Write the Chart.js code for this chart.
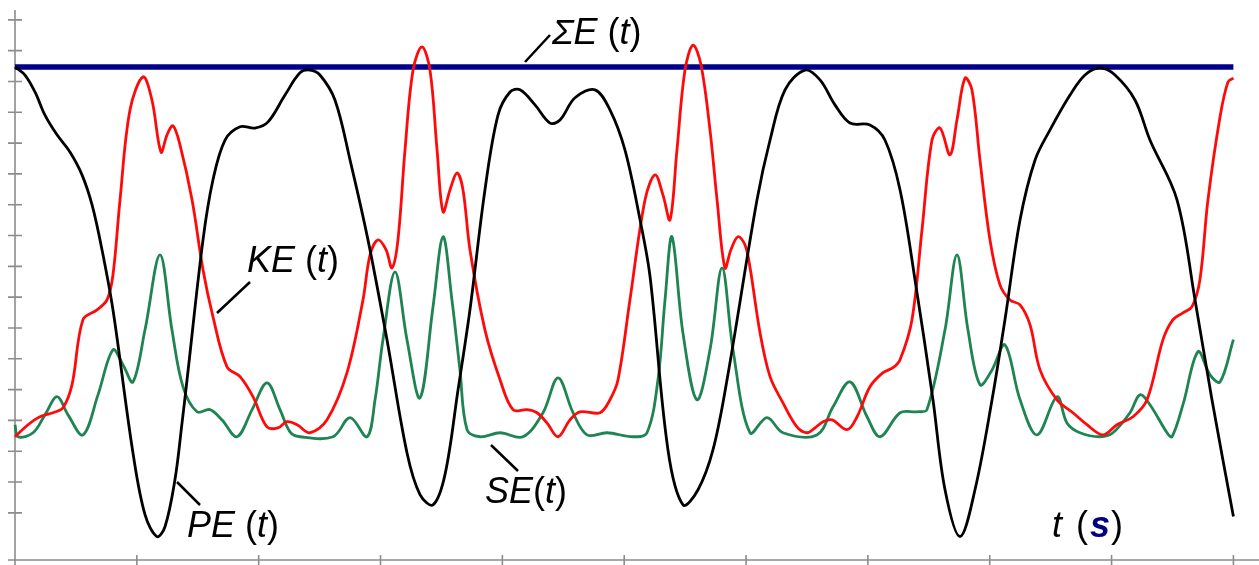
<!DOCTYPE html>
<html>
<head>
<meta charset="utf-8">
<script src="https://cdn.jsdelivr.net/npm/chart.js@4.4.1/dist/chart.umd.min.js"></script>
<style>
  html, body { margin: 0; padding: 0; background: #fff; }
  #wrap { width: 1259px; height: 565px; position: relative; }
</style>
</head>
<body>
<div id="wrap"><canvas id="energyChart"></canvas></div>
<script>
// time axis ticks (s) and energy axis ticks (arbitrary units)
var xTicks = [1, 2, 3, 4, 5, 6, 7, 8, 9, 10];
var yTicks = [13.53, 12.53, 11.53, 10.53, 9.53, 8.53, 7.53, 6.53, 5.53, 4.53, 3.53, 2.53, 1.53, 0.53, -0.47, -1.47, -2.47];

// total energy
var totalE = [[0, 12], [10, 12]];

// potential energy PE(t)
var pePoints = [
  [0, 12], [0.082, 11.74], [0.164, 11.19], [0.246, 10.44], [0.345, 9.80], [0.451, 9.24], [0.550, 8.50],
  [0.632, 7.53], [0.714, 6.07], [0.804, 4.12], [0.968, -0.52], [1.067, -2.53], [1.165, -3.24], [1.231, -2.92],
  [1.313, -1.39], [1.371, 0.45], [1.412, 1.85], [1.543, 6.39], [1.625, 8.34], [1.724, 9.63], [1.847, 10.06],
  [1.970, 10.02], [2.077, 10.22], [2.216, 11.09], [2.339, 11.81], [2.421, 11.90], [2.503, 11.74],
  [2.626, 10.93], [2.750, 8.98], [2.897, 6.39], [3.053, 3.15], [3.217, -0.52], [3.324, -1.88],
  [3.431, -2.21], [3.529, -1.23], [3.636, 1.52], [3.734, 4.12], [3.857, 8.01], [3.964, 10.44],
  [4.063, 11.19], [4.145, 11.26], [4.268, 10.77], [4.391, 10.18], [4.473, 10.28], [4.596, 11.00],
  [4.760, 11.26], [4.883, 10.61], [5.006, 9.31], [5.130, 7.04], [5.212, 5.20], [5.359, -0.42],
  [5.483, -2.21], [5.606, -1.72], [5.729, -0.42], [5.844, 1.85], [6.090, 7.69], [6.197, 9.63],
  [6.320, 11.26], [6.484, 11.90], [6.607, 11.58], [6.730, 10.77], [6.853, 10.18], [7.017, 10.12],
  [7.140, 9.63], [7.264, 8.01], [7.387, 5.09], [7.534, 1.20], [7.633, -1.72], [7.756, -3.24],
  [7.879, -1.72], [8.019, 1.20], [8.125, 3.80], [8.249, 7.04], [8.372, 8.98], [8.495, 9.96],
  [8.659, 11.09], [8.782, 11.74], [8.905, 11.97], [9.028, 11.74], [9.192, 10.93], [9.315, 9.63],
  [9.537, 7.69], [9.685, 4.44], [9.824, 1.20], [10.0, -2.59]
];

// kinetic energy KE(t)
var kePoints = [
  [0, 0], [0.107, 0.39], [0.205, 0.65], [0.312, 0.78], [0.394, 0.94], [0.468, 1.69], [0.558, 3.80],
  [0.673, 4.12], [0.755, 4.44], [0.804, 5.25], [0.862, 7.69], [0.944, 10.61], [1.051, 11.68],
  [1.124, 10.93], [1.198, 9.24], [1.248, 9.80], [1.297, 10.09], [1.354, 9.47], [1.453, 7.69],
  [1.543, 5.42], [1.625, 3.89], [1.740, 2.27], [1.847, 1.95], [1.953, 1.30], [2.068, 0.32],
  [2.159, 0.29], [2.232, 0.49], [2.315, 0.39], [2.421, 0.13], [2.561, 0.55], [2.725, 2.08],
  [2.856, 4.44], [2.914, 5.90], [2.979, 6.39], [3.045, 6.07], [3.094, 5.48], [3.143, 6.39],
  [3.201, 9.31], [3.267, 11.90], [3.340, 12.65], [3.406, 11.90], [3.464, 9.31], [3.513, 7.30],
  [3.570, 8.01], [3.628, 8.56], [3.677, 8.01], [3.734, 6.07], [3.857, 3.47], [3.981, 1.85],
  [4.087, 0.88], [4.202, 0.88], [4.284, 0.78], [4.366, 0.45], [4.457, 0], [4.555, 0.55],
  [4.637, 0.81], [4.801, 0.78], [4.883, 1.20], [4.949, 1.85], [5.047, 4.44], [5.171, 7.69],
  [5.253, 8.50], [5.318, 7.85], [5.376, 7.04], [5.433, 9.31], [5.499, 11.90], [5.565, 12.71],
  [5.630, 12.07], [5.704, 9.96], [5.762, 7.69], [5.827, 5.48], [5.876, 6.07], [5.934, 6.49],
  [5.991, 6.23], [6.032, 5.51], [6.115, 3.37], [6.197, 1.95], [6.303, 1.10], [6.418, 0.32],
  [6.500, 0.13], [6.566, 0.29], [6.632, 0.49], [6.706, 0.55], [6.829, 0.23], [6.911, 0.65],
  [7.017, 1.62], [7.124, 2.08], [7.206, 2.24], [7.264, 2.50], [7.362, 3.80], [7.444, 6.71],
  [7.526, 9.63], [7.592, 10.02], [7.674, 9.15], [7.731, 10.28], [7.797, 11.64], [7.854, 11.26],
  [7.920, 8.98], [8.002, 6.39], [8.084, 4.93], [8.166, 4.44], [8.249, 4.28], [8.331, 3.63],
  [8.413, 2.17], [8.552, 1.20], [8.683, 0.78], [8.798, 0.39], [8.929, 0.06], [9.044, 0.39],
  [9.176, 0.65], [9.291, 1.20], [9.422, 3.15], [9.504, 3.80], [9.586, 4.02], [9.660, 4.22],
  [9.725, 5.09], [9.791, 7.69], [9.890, 10.38], [9.955, 11.51], [10.0, 11.64]
];

// spring energy SE(t)
var sePoints = [
  [0, 0.39], [0.025, 0], [0.148, 0.13], [0.246, 0.71], [0.345, 1.30], [0.435, 0.71], [0.558, 0.06],
  [0.681, 1.36], [0.804, 2.82], [0.886, 2.34], [0.968, 1.78], [1.067, 3.47], [1.190, 5.90],
  [1.288, 3.47], [1.379, 1.62], [1.494, 0.81], [1.600, 0.88], [1.698, 0.55], [1.822, 0],
  [1.946, 0.88], [2.068, 1.75], [2.175, 0.88], [2.257, 0.16], [2.339, 0], [2.610, 0],
  [2.750, 0.62], [2.889, 0], [2.955, 1.20], [3.020, 3.15], [3.119, 5.35], [3.217, 3.15],
  [3.324, 1.26], [3.431, 4.22], [3.513, 6.49], [3.586, 4.44], [3.652, 2.17], [3.710, 0.23],
  [3.816, 0], [3.981, 0.13], [4.169, 0], [4.334, 0.78], [4.457, 1.91], [4.580, 0.78],
  [4.695, 0.06], [4.859, 0.13], [5.072, 0], [5.187, 0.13], [5.277, 1.85], [5.335, 4.44],
  [5.392, 6.49], [5.482, 3.37], [5.597, 1.20], [5.704, 2.82], [5.803, 5.48], [5.893, 2.82],
  [6.032, 0.13], [6.172, 0.62], [6.303, 0.13], [6.582, 0.06], [6.714, 0.97], [6.853, 1.78],
  [6.993, 0.65], [7.100, 0], [7.264, 0.78], [7.403, 0.81], [7.485, 0.88], [7.633, 3.47],
  [7.731, 5.90], [7.821, 3.47], [7.920, 1.69], [8.019, 2.17], [8.125, 2.98], [8.249, 1.20],
  [8.388, 0.06], [8.552, 1.30], [8.634, 0.45], [8.741, 0.13], [8.905, 0], [9.011, 0.13],
  [9.151, 0.78], [9.233, 1.36], [9.315, 1.04], [9.455, 0.13], [9.496, 0], [9.586, 1.04],
  [9.709, 2.76], [9.808, 2.01], [9.890, 1.78], [10.0, 3.15]
];

function toXY(pts) {
  return pts.map(function (p) { return { x: p[0], y: p[1] }; });
}

var ITALIC = "italic 36px 'Liberation Sans', Arial, sans-serif";
var UPRIGHT = "36px 'Liberation Sans', Arial, sans-serif";
var BOLDIT = "italic bold 36px 'Liberation Sans', Arial, sans-serif";

// curve labels: text pieces, left/baseline position and a leader line
var curveLabels = [
  { parts: [['\u03A3E', ITALIC], [' ', UPRIGHT], ['(', UPRIGHT], ['t', ITALIC], [')', UPRIGHT]], x: 552, y: 44, line: [525, 62, 550, 35] },
  { parts: [['KE', ITALIC], [' ', UPRIGHT], ['(', UPRIGHT], ['t', ITALIC], [')', UPRIGHT]], x: 247, y: 272, line: [217, 313, 250, 282] },
  { parts: [['PE', ITALIC], [' ', UPRIGHT], ['(', UPRIGHT], ['t', ITALIC], [')', UPRIGHT]], x: 187, y: 537, line: [177, 482, 200, 505] },
  { parts: [['SE', ITALIC], ['(', UPRIGHT], ['t', ITALIC], [')', UPRIGHT]], x: 485, y: 503, line: [491, 445, 518, 471] }
];

var axesPlugin = {
  id: 'axesPlugin',
  beforeDatasetsDraw: function (chart) {
    var ctx = chart.ctx;
    var xs = chart.scales.x, ys = chart.scales.y;
    var x0 = xs.getPixelForValue(0);
    var yb = chart.chartArea.bottom;
    ctx.save();
    ctx.strokeStyle = '#8c8c8c';
    ctx.lineWidth = 1.6;
    ctx.beginPath();
    ctx.moveTo(x0, 10);
    ctx.lineTo(x0, 565);
    ctx.moveTo(8, yb);
    ctx.lineTo(chart.width, yb);
    yTicks.forEach(function (v) {
      var py = ys.getPixelForValue(v);
      ctx.moveTo(x0 - 7, py);
      ctx.lineTo(x0 + 7, py);
    });
    xTicks.forEach(function (t) {
      var px = xs.getPixelForValue(t);
      ctx.moveTo(px, yb - 5);
      ctx.lineTo(px, yb + 5);
    });
    ctx.stroke();
    ctx.restore();
  },
  afterDraw: function (chart) {
    var ctx = chart.ctx;
    ctx.save();
    ctx.textBaseline = 'alphabetic';
    ctx.fillStyle = '#000';
    curveLabels.forEach(function (lab) {
      var x = lab.x;
      lab.parts.forEach(function (p) {
        ctx.font = p[1];
        ctx.fillText(p[0], x, lab.y);
        x += ctx.measureText(p[0]).width;
      });
      ctx.strokeStyle = '#000';
      ctx.lineWidth = 2.5;
      ctx.beginPath();
      ctx.moveTo(lab.line[0], lab.line[1]);
      ctx.lineTo(lab.line[2], lab.line[3]);
      ctx.stroke();
    });
    // axis title t (s)
    var x = 1052;
    ctx.font = ITALIC; ctx.fillStyle = '#000';
    ctx.fillText('t', x, 537); x += ctx.measureText('t').width + 14;
    ctx.font = UPRIGHT;
    ctx.fillText('(', x, 537); x += ctx.measureText('(').width + 2;
    ctx.font = BOLDIT; ctx.fillStyle = '#000080';
    ctx.fillText('s', x, 537); x += ctx.measureText('s').width + 1;
    ctx.font = UPRIGHT; ctx.fillStyle = '#000';
    ctx.fillText(')', x, 537);
    ctx.restore();
  }
};

var curveStyle = { pointRadius: 0, borderWidth: 2.8, tension: 0.35, fill: false, clip: false };

new Chart(document.getElementById('energyChart'), {
  type: 'line',
  data: {
    datasets: [
      Object.assign({ label: 'PE(t)', data: toXY(pePoints), borderColor: '#000000', order: 1 }, curveStyle),
      Object.assign({ label: 'KE(t)', data: toXY(kePoints), borderColor: '#ff0a0a', order: 2 }, curveStyle),
      Object.assign({ label: 'SE(t)', data: toXY(sePoints), borderColor: '#1e8452', order: 3 }, curveStyle),
      { label: '\u03A3E(t)', data: toXY(totalE), borderColor: '#00008a', borderWidth: 5.5, pointRadius: 0, tension: 0, order: 4, clip: false }
    ]
  },
  options: {
    animation: false,
    responsive: true,
    maintainAspectRatio: false,
    layout: { padding: { left: 15, top: 10, right: 0, bottom: 5 } },
    plugins: {
      legend: { display: false },
      tooltip: { enabled: false },
      title: { display: false }
    },
    scales: {
      x: { type: 'linear', min: 0, max: 10.21, display: false },
      y: { type: 'linear', min: -4, max: 13.85, display: false }
    }
  },
  plugins: [axesPlugin]
});
</script>
</body>
</html>
